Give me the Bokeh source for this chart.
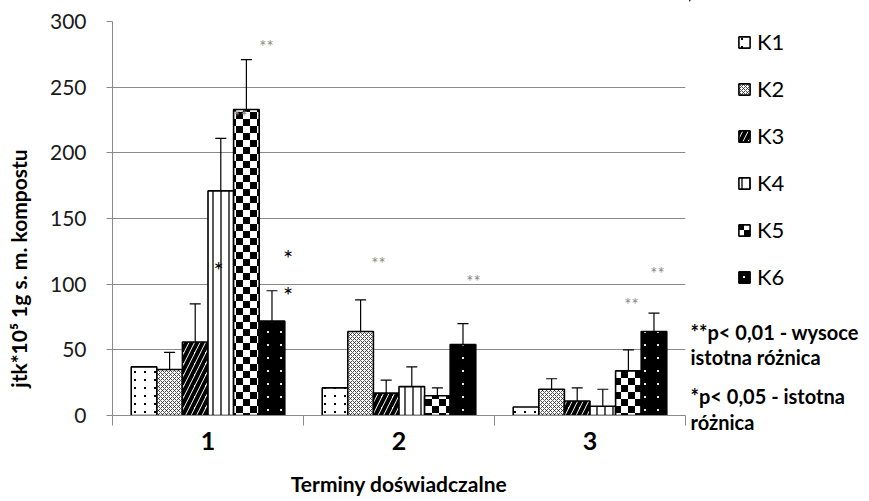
import zlib, struct, base64
from math import pi
from bokeh.plotting import figure
from bokeh.layouts import row
from bokeh.models import (ColumnDataSource, Range1d, LinearAxis,
                          FixedTicker, Whisker, TeeHead, Legend, LegendItem, ImageURLTexture)
from bokeh.core.properties import value
from bokeh.embed import file_html
from bokeh.resources import INLINE

# ---------------- data ----------------
terms = ["1", "2", "3"]
series = ["K1", "K2", "K3", "K4", "K5", "K6"]
k1 = [37, 21, 6.5]
k2 = [35, 64, 20]
k3 = [56, 17, 11]
k4 = [171, 22, 7]
k5 = [233, 15, 34]
k6 = [72, 54, 64]
k1_err = [None, None, None]
k2_err = [13, 24, 8]
k3_err = [29, 10, 10]
k4_err = [40, 15, 13]
k5_err = [38, 6, 16]
k6_err = [23, 16, 14]
means = [k1, k2, k3, k4, k5, k6]
errs = [k1_err, k2_err, k3_err, k4_err, k5_err, k6_err]

star_text = ["**", "**", "*", "*", "*", "**", "**", "**", "**"]
star_x = [0.806, 0.67, 0.555, 0.92, 0.92, 1.393, 1.89, 2.717, 2.853]
star_y = [281, 228, 111, 120, 92, 116, 102, 84.5, 108]

y_ticks = [0, 50, 100, 150, 200, 250, 300]
y_title = "jtk*10\u2075 1g s. m. kompostu"
x_title = "Terminy do\u015bwiadczalne"
notes = ["**p< 0,01 - wysoce", "istotna r\u00f3\u017cnica", "*p< 0,05 - istotna", "r\u00f3\u017cnica"]

# ---------------- textures ----------------
def png_uri(w, h, pix):
    raw = b"".join(bytes([0] + [pix(xx, yy) for xx in range(w)]) for yy in range(h))

    def chunk(t, d):
        return struct.pack(">I", len(d)) + t + d + struct.pack(">I", zlib.crc32(t + d) & 0xffffffff)
    png = (b"\x89PNG\r\n\x1a\n" + chunk(b"IHDR", struct.pack(">IIBBBBB", w, h, 8, 0, 0, 0, 0))
           + chunk(b"IDAT", zlib.compress(raw)) + chunk(b"IEND", b""))
    return "data:image/png;base64," + base64.b64encode(png).decode()

def tex(uri):
    return ImageURLTexture(url=uri, repetition="repeat")

chk_tex = tex(png_uri(14, 14, lambda x, y: 0 if ((x // 7) + (y // 7)) % 2 == 0 else 255))
dot_tex = tex(png_uri(10, 8, lambda x, y: 0 if (x in (4, 5) and y in (3, 4)) else 255))
wdot_tex = tex(png_uri(13, 13, lambda x, y: 235 if (x in (6, 7) and y in (6, 7)) else 0))

FONT = "Lato"
GREY = "#8a8a8a"
H = 500

# ---------------- main chart ----------------
p = figure(width=649, height=H, x_range=Range1d(0, len(terms)),
           y_range=Range1d(0, 300), output_backend="svg", toolbar_location=None,
           x_axis_location=None, min_border_left=72, min_border_right=4,
           min_border_top=21, min_border_bottom=85)
p.outline_line_color = None
p.xgrid.visible = False
p.ygrid.grid_line_color = GREY
p.ygrid.grid_line_width = 1
p.ygrid.ticker = FixedTicker(ticks=y_ticks)

ya = p.yaxis[0]
ya.ticker = FixedTicker(ticks=y_ticks)
ya.axis_line_color = GREY
ya.major_tick_line_color = GREY
ya.major_tick_out = 6
ya.major_tick_in = 0
ya.minor_tick_line_color = None
ya.major_label_text_font = FONT
ya.major_label_text_font_size = "21px"
ya.major_label_text_color = "#1a1a1a"
ya.major_label_standoff = 20

edges = list(range(len(terms) + 1))
edge_axis = LinearAxis(ticker=FixedTicker(ticks=edges),
                       major_label_overrides={e: "" for e in edges},
                       major_label_text_font_size="1px", major_label_standoff=0,
                       axis_line_color=GREY, major_tick_line_color=GREY,
                       major_tick_out=10, major_tick_in=0, minor_tick_line_color=None)
p.add_layout(edge_axis, "below")
centers = [gi + 0.5 for gi in range(len(terms))]
cat_axis = LinearAxis(ticker=FixedTicker(ticks=centers),
                      major_label_overrides={c: t for c, t in zip(centers, terms)},
                      axis_line_color=None, major_tick_line_color=None,
                      minor_tick_line_color=None,
                      major_label_text_font=FONT, major_label_text_font_style="bold",
                      major_label_text_font_size="25px", major_label_standoff=0,
                      major_label_text_color="#000000",
                      axis_label=x_title, axis_label_text_font=FONT,
                      axis_label_text_font_style="bold", axis_label_text_font_size="21px",
                      axis_label_standoff=18, axis_label_text_color="#000000")
p.add_layout(cat_axis, "below")

n = len(series)
w = 0.134
styles = [
    dict(fill_color="white", hatch_pattern=value("dot"), hatch_extra={"dot": dot_tex}),
    dict(fill_color="white", hatch_pattern="x", hatch_color="#222222", hatch_scale=4, hatch_weight=0.8),
    dict(fill_color="white", hatch_pattern="/", hatch_color="black", hatch_scale=11, hatch_weight=4),
    dict(fill_color="white", hatch_pattern="|", hatch_color="black", hatch_scale=8, hatch_weight=1.3),
    dict(fill_color="white", hatch_pattern=value("chk"), hatch_extra={"chk": chk_tex}),
    dict(fill_color="black", hatch_pattern=value("wdot"), hatch_extra={"wdot": wdot_tex}),
]
for k, name in enumerate(series):
    xs = [gi + 0.5 + (k - (n - 1) / 2) * w for gi in range(len(terms))]
    src = ColumnDataSource(dict(x=xs, top=means[k]))
    p.vbar(x="x", top="top", width=w, source=src, line_color="black", line_width=1.6, **styles[k])
    ex, el, eu = [], [], []
    for gi in range(len(terms)):
        if errs[k][gi] is not None:
            ex.append(xs[gi])
            el.append(means[k][gi])
            eu.append(means[k][gi] + errs[k][gi])
    if ex:
        esrc = ColumnDataSource(dict(x=ex, lower=el, upper=eu))
        p.add_layout(Whisker(source=esrc, base="x", lower="lower", upper="upper", dimension="height",
                             line_color="black", line_width=1.2,
                             upper_head=TeeHead(size=11, line_color="black", line_width=1.2),
                             lower_head=None))

sc = [GREY if t == "**" else "black" for t in star_text]
ss = ["17px" if t == "**" else "24px" for t in star_text]
ssrc = ColumnDataSource(dict(x=star_x, y=star_y, t=star_text, c=sc, s=ss))
p.text(x="x", y="y", text="t", source=ssrc, text_color="c", text_font_size="s",
       text_font=value(FONT), text_align="center", text_baseline="middle")

# ---------------- left strip: y title ----------------
pl = figure(width=40, height=H, x_range=Range1d(0, 40), y_range=Range1d(H, 0),
            output_backend="svg", toolbar_location=None, x_axis_location=None,
            y_axis_location=None, min_border=0)
pl.outline_line_color = None
pl.grid.visible = False
pl.text(x=[18], y=[268], text=[y_title], angle=pi / 2, text_align="center",
        text_baseline="middle", text_font=value(FONT), text_font_style="bold",
        text_font_size="21px", text_color="#000000")

# ---------------- right strip: legend + footnotes ----------------
SW = 179
pr = figure(width=SW, height=H, x_range=Range1d(0, SW), y_range=Range1d(H, 0),
            output_backend="svg", toolbar_location=None, x_axis_location=None,
            y_axis_location=None, min_border=0)
pr.outline_line_color = None
pr.grid.visible = False
items = []
for k, name in enumerate(series):
    # legend swatch carrier, kept outside the visible range of this strip
    r = pr.vbar(x=[-100], top=[-100], bottom=[-101], width=1, line_color="black",
                line_width=1.6, **styles[k])
    items.append(LegendItem(label=name, renderers=[r]))
legend = Legend(items=items, location=(48, 210), orientation="vertical",
                glyph_width=14, glyph_height=14, label_height=26, label_standoff=6,
                spacing=20, padding=0, margin=0,
                label_text_font=FONT, label_text_font_size="22px", label_text_color="#000000",
                border_line_color=None, background_fill_alpha=0)
pr.add_layout(legend)
pr.text(x=[1, 1, 1, 1], y=[331, 356, 395, 421], text=notes, text_align="left",
        text_baseline="middle", text_font=value(FONT), text_font_style="bold",
        text_font_size="20px", text_color="#000000")

for f in (pl, p, pr):
    f.frame_align = False

layout = row(pl, p, pr, spacing=0)
open("out.html", "w").write(file_html(layout, INLINE))
